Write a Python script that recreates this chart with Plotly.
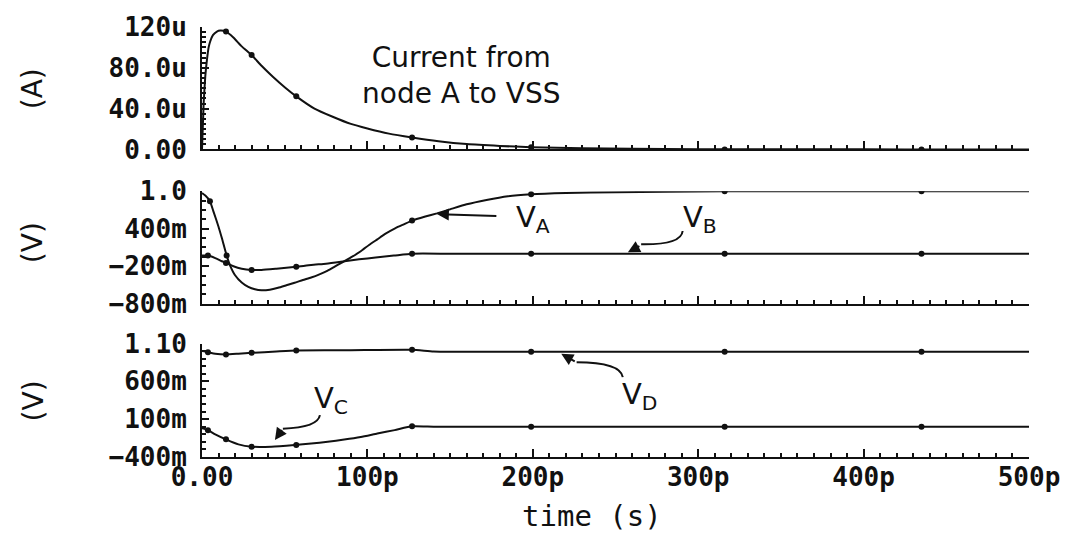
import plotly.graph_objects as go

# ---------------- data (time in ps) ----------------
T_I = [0, 1, 2, 3, 4, 5, 6.6, 9, 11, 14.5, 18.8, 24, 30, 36, 43, 50, 57, 68, 79, 90, 100, 113, 127, 143, 160, 180, 199, 230, 260, 300, 350, 400, 450, 500]
I_A = [0, 45, 72, 88, 100, 106, 112, 115.5, 116.5, 115.5, 110, 101, 92.5, 82, 71, 61, 52, 40, 32, 25, 20.5, 15.5, 11.7, 8, 5.2, 3.4, 2.2, 1.1, 0.6, 0.25, 0.1, 0.05, 0, 0]

T_A = [0, 2, 4.8, 7, 9.9, 12, 14.9, 17, 19.9, 24, 28, 32, 36, 41, 46, 51, 56, 61, 66, 71, 76, 80, 84, 90, 96, 101, 106, 111, 117, 122, 127, 135, 142, 150, 160, 172, 185, 199, 220, 250, 280, 316, 360, 400, 435, 470, 500]
V_A = [0.97, 0.93, 0.84, 0.67, 0.44, 0.25, -0.03, -0.19, -0.34, -0.46, -0.53, -0.57, -0.585, -0.575, -0.545, -0.505, -0.465, -0.42, -0.38, -0.33, -0.27, -0.21, -0.15, -0.06, 0.04, 0.14, 0.23, 0.32, 0.41, 0.47, 0.53, 0.595, 0.645, 0.71, 0.79, 0.86, 0.92, 0.95, 0.97, 0.985, 0.99, 1.0, 1.0, 1.0, 1.0, 1.0, 1.0]

T_B = [0, 3.6, 8, 12, 15, 19, 24, 30, 36, 45, 57, 66, 75, 84, 95, 105, 116, 127, 150, 199, 250, 316, 400, 435, 500]
V_B = [-0.03, -0.03, -0.07, -0.12, -0.15, -0.2, -0.24, -0.26, -0.26, -0.24, -0.21, -0.18, -0.16, -0.13, -0.09, -0.06, -0.03, 0.0, 0.0, 0.0, 0.0, 0.0, 0.0, 0.0, 0.0]

T_C = [0, 3.6, 8, 14.5, 22, 30, 42, 56, 66, 76, 86, 96, 106, 116.5, 127, 140, 160, 199, 250, 316, 400, 435, 500]
V_C = [-0.02, -0.045, -0.1, -0.167, -0.233, -0.264, -0.264, -0.242, -0.222, -0.198, -0.17, -0.136, -0.09, -0.045, 0.005, 0.0, 0.0, 0.0, 0.0, 0.0, 0.0, 0.0, 0.0]

T_D = [0, 3.6, 8, 14.5, 22, 30, 45, 57, 90, 127, 140, 160, 199, 250, 316, 400, 435, 500]
V_D = [1.0, 0.986, 0.965, 0.955, 0.965, 0.977, 0.995, 1.008, 1.012, 1.017, 0.995, 0.99, 0.99, 0.99, 0.99, 0.99, 0.99, 0.99]

# marker sample times and values (as seen on each curve)
T_MARK_I = [14.5, 30, 57, 127, 199, 316, 435]
I_MARK = [115.5, 92.5, 52, 11.7, 2.2, 0, 0]
T_MARK_A = [4.8, 14.9, 127, 199, 316, 435]
VA_MARK = [0.84, -0.03, 0.53, 0.95, 1.0, 1.0]
T_MARK = [3.6, 14.5, 30, 57, 127, 199, 316, 435]
VB_MARK = [-0.03, -0.15, -0.26, -0.21, 0.0, 0.0, 0.0, 0.0]
VC_MARK = [-0.045, -0.167, -0.264, -0.242, 0.005, 0.0, 0.0, 0.0]
VD_MARK = [0.986, 0.955, 0.977, 1.008, 1.017, 0.99, 0.99, 0.99]

X_TICKS = [0, 100, 200, 300, 400, 500]
X_LABELS = ["0.00", "100p", "200p", "300p", "400p", "500p"]
Y1_TICKS = [0, 40, 80, 120]
Y1_LABELS = ["0.00", "40.0u", "80.0u", "120u"]
Y2_TICKS = [-0.8, -0.2, 0.4, 1.0]
Y2_LABELS = ["\u2212800m", "\u2212200m", "400m", "1.0"]
Y3_TICKS = [-0.4, 0.1, 0.6, 1.1]
Y3_LABELS = ["\u2212400m", "100m", "600m", "1.10"]

BLACK = "#111111"
TICKFONT = dict(family="DejaVu Sans Mono", size=26, color=BLACK, weight="bold")

fig = go.Figure()

def add_series(t, v, tm, vm, xa, ya):
    fig.add_trace(go.Scatter(x=t, y=v, mode="lines", xaxis=xa, yaxis=ya,
                             line=dict(color=BLACK, width=2, shape="spline", smoothing=0.5),
                             showlegend=False, hoverinfo="skip"))
    fig.add_trace(go.Scatter(x=tm, y=vm, mode="markers", xaxis=xa, yaxis=ya,
                             marker=dict(color=BLACK, size=6),
                             showlegend=False, hoverinfo="skip"))

add_series(T_I, I_A, T_MARK_I, I_MARK, "x", "y")
add_series(T_A, V_A, T_MARK_A, VA_MARK, "x2", "y2")
add_series(T_B, V_B, T_MARK, VB_MARK, "x2", "y2")
add_series(T_C, V_C, T_MARK, VC_MARK, "x3", "y3")
add_series(T_D, V_D, T_MARK, VD_MARK, "x3", "y3")

def xaxis(anchor, labels):
    return dict(domain=[0, 1], anchor=anchor, range=[0, 500],
                showline=True, linecolor=BLACK, linewidth=2, mirror=False,
                ticks="inside", ticklen=8, tickwidth=2, tickcolor=BLACK,
                tickvals=X_TICKS, ticktext=X_LABELS, showticklabels=labels,
                tickfont=TICKFONT, ticklabelstandoff=-4,
                minor=dict(dtick=10, ticks="inside", ticklen=4, tickwidth=1.5, tickcolor=BLACK, showgrid=False),
                showgrid=False, zeroline=False)

def yaxis(anchor, dom, rng, tv, tt, mdt):
    return dict(domain=dom, anchor=anchor, range=rng,
                showline=True, linecolor=BLACK, linewidth=2,
                ticks="inside", ticklen=7, tickwidth=2, tickcolor=BLACK,
                tickvals=tv, ticktext=tt, tickfont=TICKFONT, ticklabelstandoff=8,
                minor=dict(dtick=mdt, tick0=rng[0], ticks="inside", ticklen=4, tickwidth=1.5, tickcolor=BLACK, showgrid=False),
                showgrid=False, zeroline=False)

fig.update_layout(
    width=1072, height=534,
    margin=dict(l=202, r=42, t=25, b=77),
    paper_bgcolor="white", plot_bgcolor="white",
    xaxis=xaxis("y", False),
    xaxis2=xaxis("y2", False),
    xaxis3=xaxis("y3", True),
    yaxis=yaxis("x", [0.7153, 1.0], [0, 120], Y1_TICKS, Y1_LABELS, 5),
    yaxis2=yaxis("x2", [0.3565, 0.6181], [-0.8, 1.0], Y2_TICKS, Y2_LABELS, 0.15),
    yaxis3=yaxis("x3", [0.0, 0.2639], [-0.4, 1.1], Y3_TICKS, Y3_LABELS, 0.1),
)

UNITFONT = dict(family="DejaVu Sans", size=28, color=BLACK)
LABFONT = dict(family="DejaVu Sans", size=29, color=BLACK)
C = dict(xanchor="center", yanchor="middle")

ann = [
    dict(text="(A)", xref="paper", yref="paper", x=-0.204, y=0.856, textangle=-90, showarrow=False, font=UNITFONT, **C),
    dict(text="(V)", xref="paper", yref="paper", x=-0.204, y=0.498, textangle=-90, showarrow=False, font=UNITFONT, **C),
    dict(text="(V)", xref="paper", yref="paper", x=-0.204, y=0.130, textangle=-90, showarrow=False, font=UNITFONT, **C),
    dict(text="time (s)", xref="paper", yref="paper", x=0.472, y=-0.137, showarrow=False,
         font=dict(family="DejaVu Sans Mono", size=29, color=BLACK), **C),
    dict(text="Current from<br>node A to VSS", xref="paper", yref="paper", x=0.314, y=0.887, showarrow=False,
         font=dict(family="DejaVu Sans", size=28, color=BLACK), **C),
    dict(text="V<sub>A</sub>", xref="x2", yref="y2", x=200, y=0.554, showarrow=False, font=LABFONT, **C),
    dict(text="V<sub>B</sub>", xref="x2", yref="y2", x=301, y=0.554, showarrow=False, font=LABFONT, **C),
    dict(text="V<sub>C</sub>", xref="x3", yref="y3", x=78, y=0.35, showarrow=False, font=LABFONT, **C),
    dict(text="V<sub>D</sub>", xref="x3", yref="y3", x=264.5, y=0.403, showarrow=False, font=LABFONT, **C),
    # arrowheads
    dict(text="", xref="x2", yref="y2", x=142, y=0.634, ax=61, ay=2, showarrow=True,
         arrowhead=2, arrowsize=1.2, arrowwidth=2, arrowcolor=BLACK, standoff=0),
    dict(text="", xref="x2", yref="y2", x=257.5, y=0.022, ax=13, ay=-7, showarrow=True,
         arrowhead=2, arrowsize=1.2, arrowwidth=2, arrowcolor=BLACK, standoff=0),
    dict(text="", xref="x3", yref="y3", x=44.1, y=-0.176, ax=8, ay=-11.5, showarrow=True,
         arrowhead=2, arrowsize=1.2, arrowwidth=2, arrowcolor=BLACK, standoff=0),
    dict(text="", xref="x3", yref="y3", x=217.2, y=0.964, ax=15, ay=8.4, showarrow=True,
         arrowhead=2, arrowsize=1.2, arrowwidth=2, arrowcolor=BLACK, standoff=0),
]
fig.update_layout(annotations=ann)

shapes = [
    dict(type="path", xref="x2", yref="y2", path="M 290.6,0.363 Q 289.8,0.14 265.5,0.15",
         line=dict(color=BLACK, width=2)),
    dict(type="path", xref="x3", yref="y3", path="M 71.3,0.153 Q 70.0,-0.01 48.9,-0.025",
         line=dict(color=BLACK, width=2)),
    dict(type="path", xref="x3", yref="y3", path="M 254.4,0.657 Q 253.0,0.851 226.5,0.854",
         line=dict(color=BLACK, width=2)),
]
fig.update_layout(shapes=shapes)

fig.write_html("out.html")
